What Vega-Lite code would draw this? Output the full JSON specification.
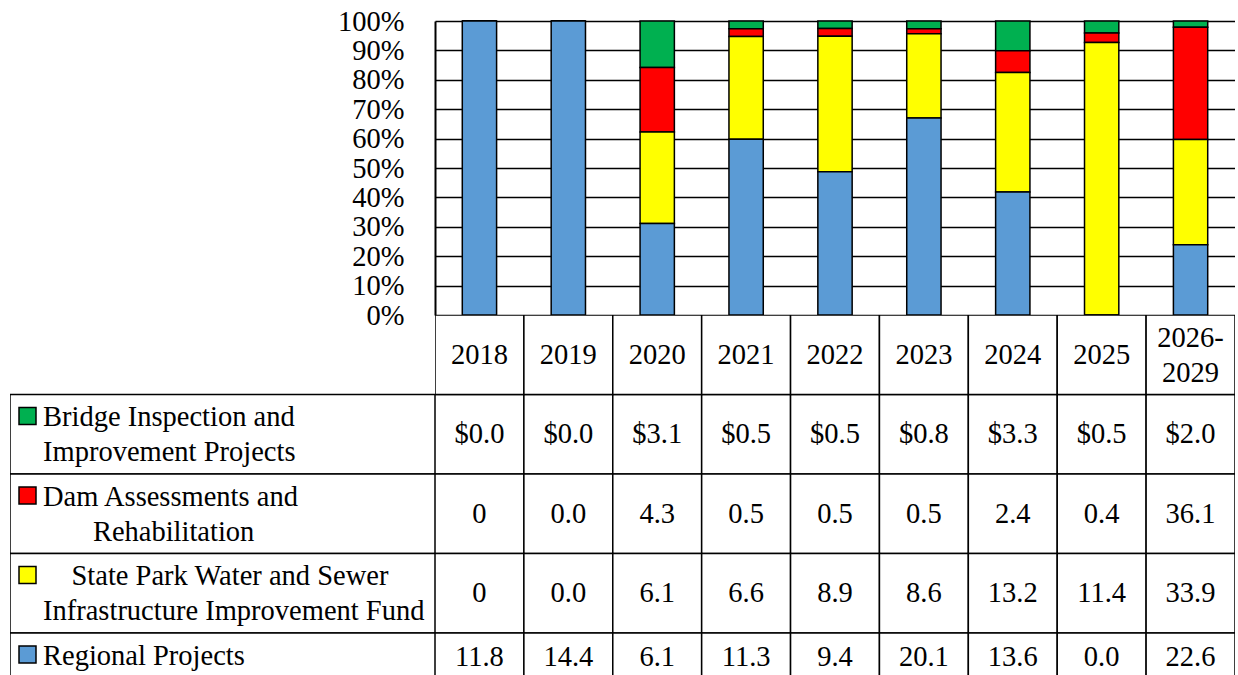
{
  "$schema": "https://vega.github.io/schema/vega-lite/v6.json",
  "background": "white",
  "padding": {"left": 10, "top": 7, "right": 0, "bottom": 0},
  "columns": 2,
  "spacing": 0,
  "bounds": "flush",
  "align": "each",
  "config": {"view": {"stroke": null}, "legend": {"disable": true}},
  "datasets": {
    "cells": [
      {"year": "2018", "series": "Bridge Inspection and Improvement Projects", "row": 1, "value": 0.0, "label": "$0.0"},
      {"year": "2019", "series": "Bridge Inspection and Improvement Projects", "row": 1, "value": 0.0, "label": "$0.0"},
      {"year": "2020", "series": "Bridge Inspection and Improvement Projects", "row": 1, "value": 3.1, "label": "$3.1"},
      {"year": "2021", "series": "Bridge Inspection and Improvement Projects", "row": 1, "value": 0.5, "label": "$0.5"},
      {"year": "2022", "series": "Bridge Inspection and Improvement Projects", "row": 1, "value": 0.5, "label": "$0.5"},
      {"year": "2023", "series": "Bridge Inspection and Improvement Projects", "row": 1, "value": 0.8, "label": "$0.8"},
      {"year": "2024", "series": "Bridge Inspection and Improvement Projects", "row": 1, "value": 3.3, "label": "$3.3"},
      {"year": "2025", "series": "Bridge Inspection and Improvement Projects", "row": 1, "value": 0.5, "label": "$0.5"},
      {"year": "2026-\n2029", "series": "Bridge Inspection and Improvement Projects", "row": 1, "value": 2.0, "label": "$2.0"},
      {"year": "2018", "series": "Dam Assessments and Rehabilitation", "row": 2, "value": 0, "label": "0"},
      {"year": "2019", "series": "Dam Assessments and Rehabilitation", "row": 2, "value": 0.0, "label": "0.0"},
      {"year": "2020", "series": "Dam Assessments and Rehabilitation", "row": 2, "value": 4.3, "label": "4.3"},
      {"year": "2021", "series": "Dam Assessments and Rehabilitation", "row": 2, "value": 0.5, "label": "0.5"},
      {"year": "2022", "series": "Dam Assessments and Rehabilitation", "row": 2, "value": 0.5, "label": "0.5"},
      {"year": "2023", "series": "Dam Assessments and Rehabilitation", "row": 2, "value": 0.5, "label": "0.5"},
      {"year": "2024", "series": "Dam Assessments and Rehabilitation", "row": 2, "value": 2.4, "label": "2.4"},
      {"year": "2025", "series": "Dam Assessments and Rehabilitation", "row": 2, "value": 0.4, "label": "0.4"},
      {"year": "2026-\n2029", "series": "Dam Assessments and Rehabilitation", "row": 2, "value": 36.1, "label": "36.1"},
      {"year": "2018", "series": "State Park Water and Sewer Infrastructure Improvement Fund", "row": 3, "value": 0, "label": "0"},
      {"year": "2019", "series": "State Park Water and Sewer Infrastructure Improvement Fund", "row": 3, "value": 0.0, "label": "0.0"},
      {"year": "2020", "series": "State Park Water and Sewer Infrastructure Improvement Fund", "row": 3, "value": 6.1, "label": "6.1"},
      {"year": "2021", "series": "State Park Water and Sewer Infrastructure Improvement Fund", "row": 3, "value": 6.6, "label": "6.6"},
      {"year": "2022", "series": "State Park Water and Sewer Infrastructure Improvement Fund", "row": 3, "value": 8.9, "label": "8.9"},
      {"year": "2023", "series": "State Park Water and Sewer Infrastructure Improvement Fund", "row": 3, "value": 8.6, "label": "8.6"},
      {"year": "2024", "series": "State Park Water and Sewer Infrastructure Improvement Fund", "row": 3, "value": 13.2, "label": "13.2"},
      {"year": "2025", "series": "State Park Water and Sewer Infrastructure Improvement Fund", "row": 3, "value": 11.4, "label": "11.4"},
      {"year": "2026-\n2029", "series": "State Park Water and Sewer Infrastructure Improvement Fund", "row": 3, "value": 33.9, "label": "33.9"},
      {"year": "2018", "series": "Regional Projects", "row": 4, "value": 11.8, "label": "11.8"},
      {"year": "2019", "series": "Regional Projects", "row": 4, "value": 14.4, "label": "14.4"},
      {"year": "2020", "series": "Regional Projects", "row": 4, "value": 6.1, "label": "6.1"},
      {"year": "2021", "series": "Regional Projects", "row": 4, "value": 11.3, "label": "11.3"},
      {"year": "2022", "series": "Regional Projects", "row": 4, "value": 9.4, "label": "9.4"},
      {"year": "2023", "series": "Regional Projects", "row": 4, "value": 20.1, "label": "20.1"},
      {"year": "2024", "series": "Regional Projects", "row": 4, "value": 13.6, "label": "13.6"},
      {"year": "2025", "series": "Regional Projects", "row": 4, "value": 0.0, "label": "0.0"},
      {"year": "2026-\n2029", "series": "Regional Projects", "row": 4, "value": 22.6, "label": "22.6"}
    ],
    "rows": [
      {"series": "Bridge Inspection and Improvement Projects", "name": "Bridge Inspection and\nImprovement Projects"},
      {"series": "Dam Assessments and Rehabilitation", "name": "Dam Assessments and\n\u200b\u00a0\u00a0\u00a0\u00a0\u00a0\u00a0\u00a0Rehabilitation"},
      {"series": "State Park Water and Sewer Infrastructure Improvement Fund", "name": "\u200b\u00a0\u00a0\u00a0\u00a0State Park Water and Sewer\nInfrastructure Improvement Fund"},
      {"series": "Regional Projects", "name": "Regional Projects"}
    ]
  },
  "concat": [
    {
      "width": 425,
      "height": 294,
      "data": {"values": []},
      "mark": "point",
      "encoding": {}
    },
    {
      "width": 800,
      "height": 294,
      "data": {"name": "cells"},
      "mark": {"type": "bar", "stroke": "black", "strokeWidth": 1.5},
      "encoding": {
        "x": {"field": "year", "type": "nominal", "scale": {"paddingInner": 0.614, "paddingOuter": 0.307}, "axis": null},
        "y": {
          "field": "value", "type": "quantitative", "stack": "normalize",
          "scale": {"domain": [0, 1]},
          "axis": {
            "title": null, "format": ".0%",
            "values": [0, 0.1, 0.2, 0.3, 0.4, 0.5, 0.6, 0.7, 0.8, 0.9, 1],
            "grid": true, "gridColor": "black", "gridWidth": 1.5, "gridOpacity": 1,
            "domainColor": "black", "domainWidth": 2, "ticks": false,
            "labelPadding": 31, "labelFont": "Liberation Serif", "labelFontSize": 28.5,
            "labelColor": "black", "labelOverlap": false, "labelFlush": false, "labelBaseline": "middle"
          }
        },
        "order": {"field": "row", "type": "quantitative", "sort": "descending"},
        "color": {
          "field": "series", "type": "nominal",
          "scale": {
            "domain": ["Regional Projects", "State Park Water and Sewer Infrastructure Improvement Fund", "Dam Assessments and Rehabilitation", "Bridge Inspection and Improvement Projects"],
            "range": ["#5B9BD5", "#FFFF00", "#FF0000", "#00B050"]
          },
          "legend": null
        }
      }
    },
    {
      "width": 425,
      "height": 360,
      "data": {"name": "rows"},
      "encoding": {
        "y": {
          "field": "series", "type": "nominal", "axis": null,
          "scale": {
            "domain": ["Year", "Bridge Inspection and Improvement Projects", "Dam Assessments and Rehabilitation", "State Park Water and Sewer Infrastructure Improvement Fund", "Regional Projects"],
            "range": [0, 397.5], "paddingInner": 0, "paddingOuter": 0
          }
        }
      },
      "layer": [
        {
          "mark": {"type": "rect", "fill": "white", "stroke": "black", "strokeWidth": 1.5, "clip": true},
          "encoding": {"x": {"value": 0}, "x2": {"value": "width"}}
        },
        {
          "mark": {"type": "point", "shape": "square", "size": 289, "filled": true, "opacity": 1, "stroke": "black", "strokeWidth": 1.5},
          "encoding": {
            "x": {"value": 17.5},
            "y": {"field": "series", "type": "nominal", "bandPosition": 0.27},
            "color": {
              "field": "series", "type": "nominal",
              "scale": {
                "domain": ["Regional Projects", "State Park Water and Sewer Infrastructure Improvement Fund", "Dam Assessments and Rehabilitation", "Bridge Inspection and Improvement Projects"],
                "range": ["#5B9BD5", "#FFFF00", "#FF0000", "#00B050"]
              },
              "legend": null
            }
          }
        },
        {
          "mark": {"type": "text", "align": "left", "baseline": "middle", "lineBreak": "\n", "lineHeight": 35, "font": "Liberation Serif", "fontSize": 28.5, "color": "black"},
          "encoding": {"x": {"value": 33}, "y": {"field": "series", "type": "nominal", "bandPosition": 0.285}, "text": {"field": "name"}}
        }
      ]
    },
    {
      "width": 800,
      "height": 360,
      "data": {"name": "cells"},
      "encoding": {
        "x": {"field": "year", "type": "nominal", "scale": {"paddingInner": 0, "paddingOuter": 0}, "axis": null}
      },
      "layer": [
        {
          "mark": {"type": "rect", "fill": "white", "stroke": "black", "strokeWidth": 1.5, "clip": true},
          "encoding": {
            "y": {
              "field": "series", "type": "nominal", "axis": null,
              "scale": {
                "domain": ["Year", "Bridge Inspection and Improvement Projects", "Dam Assessments and Rehabilitation", "State Park Water and Sewer Infrastructure Improvement Fund", "Regional Projects"],
                "range": [0, 397.5], "paddingInner": 0, "paddingOuter": 0
              }
            }
          }
        },
        {
          "transform": [{"filter": "datum.series == 'Regional Projects'"}],
          "mark": {"type": "rect", "fill": "white", "stroke": "black", "strokeWidth": 1.5, "clip": true},
          "encoding": {"y": {"datum": "Year", "type": "nominal"}}
        },
        {
          "transform": [{"filter": "datum.series == 'Regional Projects' && indexof(datum.year, '-') < 0"}],
          "mark": {"type": "text", "align": "center", "baseline": "middle", "font": "Liberation Serif", "fontSize": 28.5, "color": "black"},
          "encoding": {"y": {"datum": "Year", "type": "nominal"}, "text": {"field": "year"}}
        },
        {
          "transform": [{"filter": "datum.series == 'Regional Projects' && indexof(datum.year, '-') >= 0"}],
          "mark": {"type": "text", "align": "center", "baseline": "middle", "lineBreak": "\n", "lineHeight": 35, "font": "Liberation Serif", "fontSize": 28.5, "color": "black"},
          "encoding": {"y": {"datum": "Year", "type": "nominal", "bandPosition": 0.29}, "text": {"field": "year"}}
        },
        {
          "transform": [{"filter": "datum.series != 'Regional Projects'"}],
          "mark": {"type": "text", "align": "center", "baseline": "middle", "font": "Liberation Serif", "fontSize": 28.5, "color": "black"},
          "encoding": {"y": {"field": "series", "type": "nominal"}, "text": {"field": "label"}}
        },
        {
          "transform": [{"filter": "datum.series == 'Regional Projects'"}],
          "mark": {"type": "text", "align": "center", "baseline": "middle", "font": "Liberation Serif", "fontSize": 28.5, "color": "black"},
          "encoding": {"y": {"field": "series", "type": "nominal", "bandPosition": 0.3}, "text": {"field": "label"}}
        }
      ]
    }
  ]
}
